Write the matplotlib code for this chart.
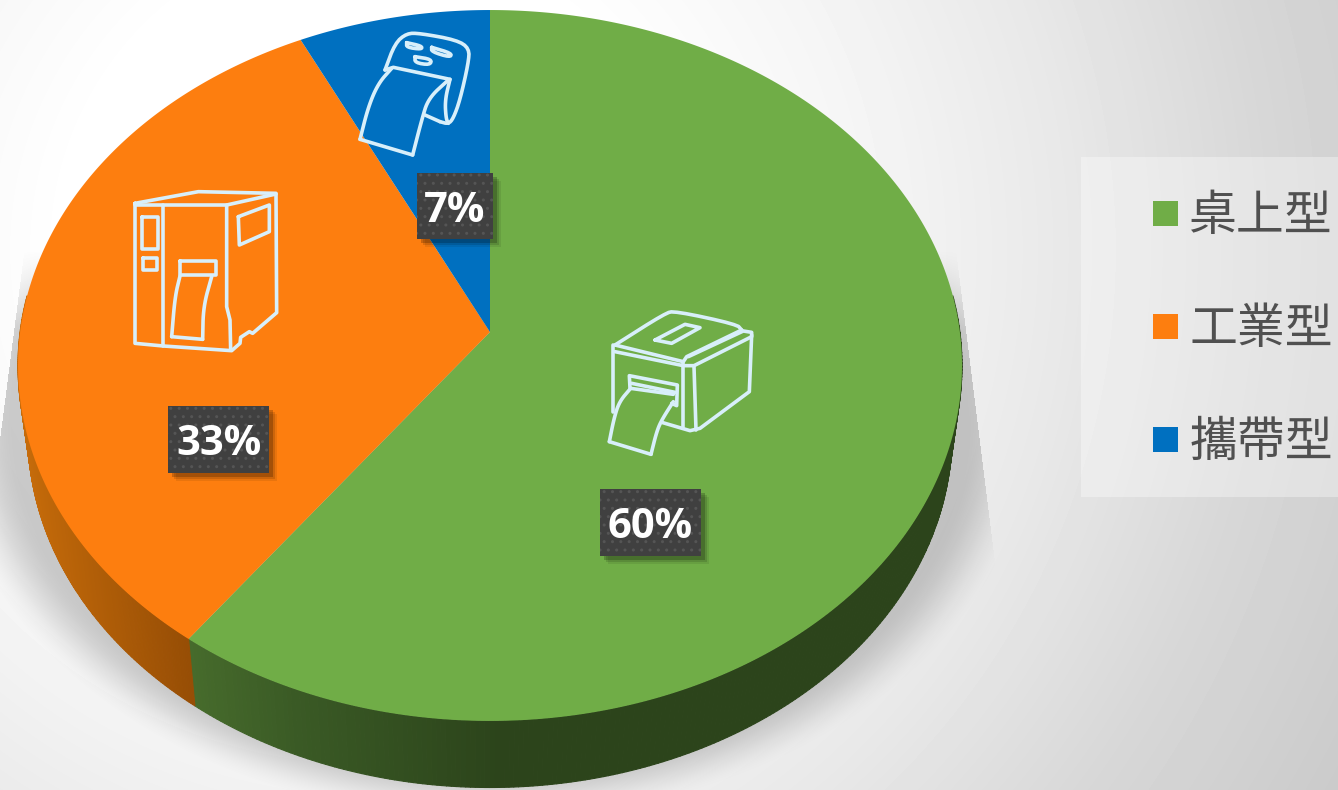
import numpy as np
import matplotlib
matplotlib.use("Agg")
import matplotlib.pyplot as plt
from matplotlib.collections import PolyCollection
from matplotlib.colors import to_rgb
from matplotlib.patches import Rectangle

plt.rcParams['font.family'] = ['Noto Sans CJK TC', 'DejaVu Sans']
plt.rcParams['hatch.linewidth'] = 1.0

# dane
labels = ["桌上型", "工業型", "攜帶型"]
values = [60.1, 32.7, 7.2]
colors = ["#70ad47", "#fd7e0f", "#0070c0"]

# polozenie etykiet: srodek pudelka i jego rozmiar
label_boxes = [(650.5, 522.5, 101, 67), (218.5, 439.5, 101, 67), (455, 206, 76, 66)]

K = 0.0942


def gora(theta):
    u, v = np.cos(theta), np.sin(theta)
    d = 1 + K * v
    return 490 + 469.9 * u / d, 332 - 352.3 * v / d


def dol(theta):
    u, v = np.cos(theta), np.sin(theta)
    d = 1 + K * v
    return 490 + 460 * u / d, 400 - 351 * v / d


def gl(linia, n=3):
    # wygladzanie lamanej (Chaikin)
    p = np.array(linia, dtype=float)
    for _ in range(n):
        q = 0.75 * p[:-1] + 0.25 * p[1:]
        r = 0.25 * p[:-1] + 0.75 * p[1:]
        nowe = np.empty((2 * len(q), 2))
        nowe[0::2] = q
        nowe[1::2] = r
        p = np.vstack([p[0], nowe, p[-1]])
    return p


def ikona(linie, x0, y0):
    for linia in linie:
        p = np.array(linia, dtype=float)
        ax.plot(x0 + p[:, 0] / 3, y0 + p[:, 1] / 3, color="#d8effa", lw=2.6,
                solid_joinstyle="round", solid_capstyle="round", zorder=5)


fig = plt.figure(figsize=(13.38, 7.9), dpi=100)
ax = fig.add_axes([0, 0, 1, 1])
ax.axis("off")

# tlo
xx, yy = np.meshgrid(np.arange(1338) + 0.5, np.arange(790) + 0.5)
r = np.hypot(xx - 370, yy - 250)
szary = np.interp(r, [0, 300, 500, 700, 900, 1100], [255, 255, 245, 232, 215, 203]) / 255
ax.imshow(szary, cmap="gray", vmin=0, vmax=1, extent=(0, 1338, 790, 0), aspect="auto", zorder=0)

# cien pod wykresem
d = np.hypot((xx - 490) / 546, (yy - 422) / 400)
a = np.clip((1 - d) / 0.13, 0, 1)
a = a * a * (3 - 2 * a)
lewa = xx > 22 - (yy - 270) * 22 / 170
prawa = xx < 956 + (yy - 250) * 40 / 320
gora_cien = np.clip((yy - 250) / 80, 0, 1)
a = a * lewa * prawa * gora_cien
cien = np.zeros((790, 1338, 4))
cien[..., :3] = 0.45
cien[..., 3] = a * 0.36
ax.imshow(cien, extent=(0, 1338, 790, 0), aspect="auto", zorder=1)
ax.set_xlim(0, 1338)
ax.set_ylim(790, 0)

# kolory boku
bok_x = {0: [188, 300, 500, 1000], 1: [20, 190]}
bok_k = {0: ["#476c2c", "#3a5a25", "#2c441b", "#2c441b"], 1: ["#c76c0a", "#974e05"]}

katy = 90 - np.cumsum([0] + values) * 3.6
for i in range(len(values)):
    t = np.radians(np.linspace(katy[i], katy[i + 1], 400))
    if i in bok_x:
        xg, yg = gora(t)
        xd, yd = dol(t)
        quady = []
        kolory = []
        k = np.array([to_rgb(c) for c in bok_k[i]])
        for j in range(len(t) - 1):
            if np.sin(t[j]) > 0.1 and np.sin(t[j + 1]) > 0.1:
                continue
            quady.append([(xg[j], yg[j]), (xg[j + 1], yg[j + 1]), (xd[j + 1], yd[j + 1]), (xd[j], yd[j])])
            xs = (xg[j] + xd[j]) / 2
            kolory.append([np.interp(xs, bok_x[i], k[:, c]) for c in range(3)])
        ax.add_collection(PolyCollection(quady, facecolors=kolory, edgecolors=kolory, linewidths=0.8, zorder=2))

for i in range(len(values)):
    t = np.radians(np.linspace(katy[i], katy[i + 1], 400))
    xg, yg = gora(t)
    ax.fill(np.r_[490, xg], np.r_[332, yg], color=colors[i], lw=0, zorder=3)

# ikony
ikona([
    gl([(75, 150), (225, 55), (255, 48), (440, 88), (455, 105)], 2),
    [(455, 105), (290, 185), (280, 200), (75, 150)],
    [(70, 150), (70, 350)],
    [(75, 170), (280, 212), (312, 212), (485, 125), (485, 112), (460, 108), (295, 185)],
    [(485, 120), (478, 290), (330, 400), (300, 407), (215, 382)],
    [(280, 205), (280, 395)],
    [(312, 215), (318, 405)],
    [(195, 135), (285, 88), (330, 98), (245, 145), (195, 135)],
    [(120, 280), (118, 242), (262, 270), (260, 332), (245, 325)],
    [(125, 265), (255, 292)],
    gl([(122, 280), (88, 320), (72, 370), (58, 440)]),
    [(58, 440), (183, 478)],
    gl([(183, 478), (200, 410), (215, 375), (250, 320)]),
    [(122, 280), (250, 298)],
], 590, 295)
ikona([
    [(45, 550), (45, 970), (130, 978), (335, 992), (360, 970), (362, 952), (388, 935), (398, 940), (470, 878), (468, 520), (235, 515), (45, 550)],
    [(45, 555), (320, 555), (468, 522)],
    [(130, 555), (130, 978)],
    [(320, 555), (320, 860), (330, 900), (332, 990)],
    [(65, 592), (115, 592), (115, 688), (65, 688), (65, 592)],
    [(68, 714), (112, 714), (112, 750), (68, 750), (68, 714)],
    [(355, 590), (448, 555), (448, 635), (358, 675), (355, 590)],
    [(180, 724), (288, 724), (288, 765), (180, 765), (180, 724)],
    gl([(180, 768), (165, 830), (155, 950)]),
    [(155, 950), (248, 958)],
    gl([(248, 958), (250, 860), (275, 770)]),
], 120, 20)
ikona([
    gl([(795, 150), (825, 70), (860, 40), (900, 40), (1010, 60), (1048, 85), (1045, 130), (1020, 240), (1000, 295), (985, 312), (960, 305)], 2),
    [(960, 305), (915, 285)],
    [(795, 150), (820, 142), (990, 178)],
    gl([(990, 178), (975, 240), (978, 295), (985, 310)]),
    gl([(815, 145), (775, 190), (745, 260), (720, 358)]),
    [(720, 358), (878, 405)],
    gl([(878, 405), (905, 300), (925, 235), (985, 180)]),
    gl([(860, 68), (905, 78), (905, 88), (860, 82), (860, 68)], 2),
    gl([(935, 82), (995, 100), (990, 112), (935, 95), (935, 82)], 2),
    gl([(885, 110), (935, 118), (930, 135), (885, 128), (885, 110)], 2),
], 120, 20)

# etykiety wartosci
for v, (cx, cy, w, h) in zip(values, label_boxes):
    x0, y0 = cx - w / 2, cy - h / 2
    for n, al in ((8, 0.08), (6, 0.12), (4, 0.2)):
        ax.add_patch(Rectangle((x0 + n, y0 + n), w, h, fc="black", alpha=al, lw=0, zorder=6))
    ax.add_patch(Rectangle((x0, y0), w, h, fc="#404040", lw=0, zorder=7))
    ax.add_patch(Rectangle((x0, y0), w, h, fc="none", ec="#555555", hatch="..", lw=0, zorder=7))
    ax.text(cx, cy + 5, f"{v:.0f}%", color="white", fontsize=30, fontweight="bold", family=["Open Sans", "DejaVu Sans"],
            ha="center", va="center", zorder=8)

# legenda
ax.add_patch(Rectangle((1081, 157), 257, 340, fc="white", alpha=0.35, lw=0, zorder=2))
for i, nazwa in enumerate(labels):
    y = 213.5 + 113 * i
    ax.add_patch(Rectangle((1153, y - 12.5), 25, 25, fc=colors[i], lw=0, zorder=3))
    ax.text(1189, y + 3, nazwa, color="#505050", fontsize=34.5, fontweight="light", ha="left", va="center", zorder=3)

plt.savefig("out.png", dpi=100)
